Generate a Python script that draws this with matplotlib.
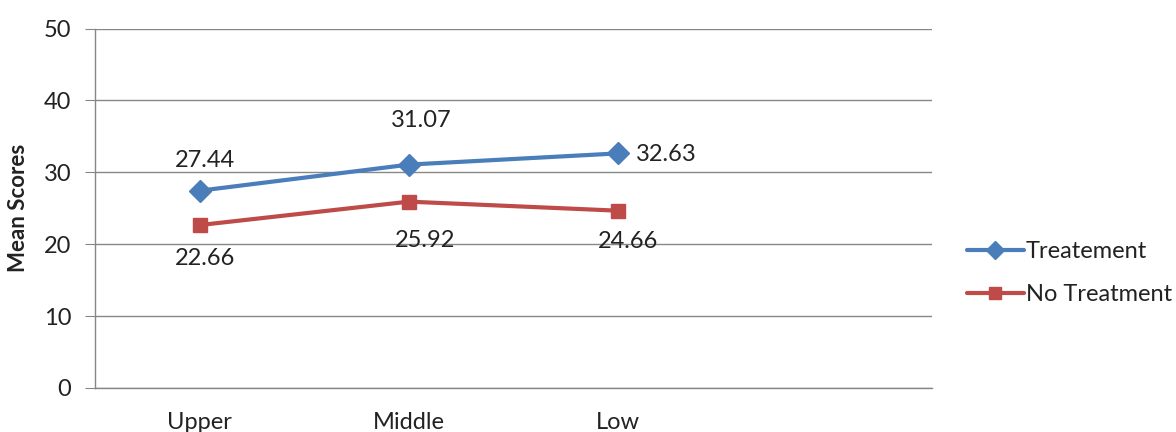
import matplotlib
matplotlib.use("Agg")
import matplotlib.pyplot as plt

categories = ["Upper", "Middle", "Low"]
treatment = [27.44, 31.07, 32.63]
no_treatment = [22.66, 25.92, 24.66]
series_names = ["Treatement", "No Treatment"]
y_ticks = [0, 10, 20, 30, 40, 50]

plt.rcParams['font.family'] = ['Lato', 'DejaVu Sans']

fig = plt.figure(figsize=(11.76, 4.32), dpi=100)
ax = fig.add_axes([95 / 1176, 1 - 388 / 432, (932 - 95) / 1176, (388 - 28.5) / 432])

x = list(range(len(categories)))
blue = "#4A7EBB"
red = "#BE4B48"
grid_c = "#878787"
tc = "#222222"

ax.plot(x, treatment, color=blue, lw=3, marker="D", markersize=11,
        label=series_names[0], solid_capstyle="round", zorder=3)
ax.plot(x, no_treatment, color=red, lw=3, marker="s", markersize=10,
        label=series_names[1], solid_capstyle="round", zorder=3)

ax.set_xlim(-0.5, 3.5)
ax.set_ylim(0, 50)
ax.set_yticks(y_ticks)
ax.set_xticks(x)
ax.set_xticklabels(categories)
ax.yaxis.grid(True, color=grid_c, lw=1)
ax.set_axisbelow(True)
for s in ["top", "right"]:
    ax.spines[s].set_visible(False)
for s in ["left", "bottom"]:
    ax.spines[s].set_color(grid_c)
    ax.spines[s].set_linewidth(1)
ax.tick_params(axis="y", length=7, color=grid_c, labelsize=17, labelcolor=tc, pad=10)
ax.tick_params(axis="x", length=0, labelsize=17, labelcolor=tc, pad=17)
ax.set_ylabel("Mean Scores", fontsize=16, fontweight="bold", color=tc)
ax.yaxis.set_label_coords(-(95 - 29) / 837, 0.5)

# value labels
fs = 17
ax.annotate(f"{treatment[0]:.2f}", (x[0], treatment[0]), xytext=(4, 22),
            textcoords="offset points", ha="center", va="center", fontsize=fs, color=tc)
ax.annotate(f"{treatment[1]:.2f}", (x[1], treatment[1]), xytext=(9, 32),
            textcoords="offset points", ha="center", va="center", fontsize=fs, color=tc)
ax.annotate(f"{treatment[2]:.2f}", (x[2], treatment[2]), xytext=(13, -1),
            textcoords="offset points", ha="left", va="center", fontsize=fs, color=tc)
ax.annotate(f"{no_treatment[0]:.2f}", (x[0], no_treatment[0]), xytext=(4, -24),
            textcoords="offset points", ha="center", va="center", fontsize=fs, color=tc)
ax.annotate(f"{no_treatment[1]:.2f}", (x[1], no_treatment[1]), xytext=(12, -28),
            textcoords="offset points", ha="center", va="center", fontsize=fs, color=tc)
ax.annotate(f"{no_treatment[2]:.2f}", (x[2], no_treatment[2]), xytext=(7, -22),
            textcoords="offset points", ha="center", va="center", fontsize=fs, color=tc)

leg = fig.legend(loc="center left", bbox_to_anchor=(967 / 1176, 1 - 273 / 432),
                 frameon=False, fontsize=17, handlelength=2.4, handletextpad=0.1,
                 labelspacing=0.95, borderaxespad=0, borderpad=0, markerscale=0.8)
for t in leg.get_texts():
    t.set_color(tc)

fig.savefig("out.png", dpi=100)
